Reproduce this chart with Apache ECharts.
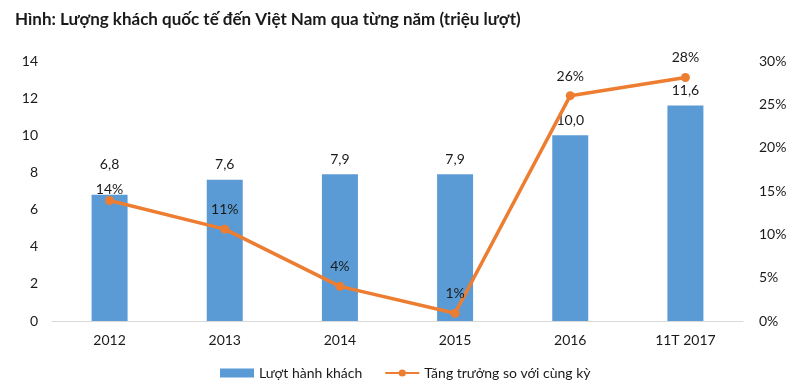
<!DOCTYPE html>
<html><head><meta charset="utf-8">
<script src="https://cdn.jsdelivr.net/npm/echarts@6/dist/echarts.min.js"></script>
<style>html,body{margin:0;padding:0;background:#fff}#c{width:793px;height:391px}</style>
</head><body><div id="c"></div>
<script>
const categories = ['2012','2013','2014','2015','2016','11T 2017'];
const visitors = [6.8, 7.6, 7.9, 7.9, 10.0, 11.6];
const growth = [13.9, 10.6, 4.0, 0.9, 26.0, 28.1];
const growthLabels = ['14%','11%','4%','1%','26%','28%'];
const leftTicks = [0,2,4,6,8,10,12,14];
const rightTicks = [0,5,10,15,20,25,30];
const FONT = 'Lato, "Open Sans", sans-serif';
const chart = echarts.init(document.getElementById('c'));
chart.setOption({
  animation:false,
  textStyle:{fontFamily:FONT},
  title:{text:'Hình: Lượng khách quốc tế đến Việt Nam qua từng năm (triệu lượt)',left:10,top:6,
    textStyle:{fontFamily:FONT,fontSize:17,fontWeight:'bold',color:'#1a1a1a'}},
  legend:{bottom:6,left:215,itemGap:22,itemWidth:34,itemHeight:9,
    textStyle:{fontFamily:FONT,fontSize:14,color:'#1a1a1a'},
    data:[{name:'Lượt hành khách',icon:'rect'},{name:'Tăng trưởng so với cùng kỳ'}]},
  grid:{left:52,right:50,top:61,bottom:70},
  xAxis:{type:'category',data:categories,
    axisLine:{lineStyle:{color:'#d9d9d9'}},axisTick:{show:false},
    axisLabel:{color:'#1a1a1a',fontSize:14,margin:12,fontFamily:FONT}},
  yAxis:[
    {type:'value',min:0,max:14,interval:2,splitLine:{show:false},axisLine:{show:false},axisTick:{show:false},
     axisLabel:{color:'#1a1a1a',fontSize:14,margin:14,fontFamily:FONT,formatter:v=>leftTicks.includes(v)?String(v):''}},
    {type:'value',min:0,max:30,interval:5,splitLine:{show:false},axisLine:{show:false},axisTick:{show:false},
     axisLabel:{color:'#1a1a1a',fontSize:14,margin:16,fontFamily:FONT,formatter:v=>rightTicks.includes(v)?v+'%':''}}
  ],
  series:[
    {name:'Lượt hành khách',type:'bar',data:visitors,barWidth:36,itemStyle:{color:'#5B9BD5'},
     label:{show:true,position:'top',distance:8,fontSize:14,color:'#1a1a1a',fontFamily:FONT,
       formatter:p=>p.value.toFixed(1).replace('.',',')},
     labelLayout:p=>p.dataIndex===0?{dy:-15}:{}},
    {name:'Tăng trưởng so với cùng kỳ',type:'line',yAxisIndex:1,data:growth,
     symbol:'circle',symbolSize:9,lineStyle:{color:'#ED7D31',width:3.5},itemStyle:{color:'#ED7D31'},
     label:{show:true,position:'top',distance:8,fontSize:14,color:'#1a1a1a',fontFamily:FONT,
       formatter:p=>growthLabels[p.dataIndex]},
     labelLayout:p=>p.dataIndex===0?{dy:8}:{}}
  ]
});
</script></body></html>
